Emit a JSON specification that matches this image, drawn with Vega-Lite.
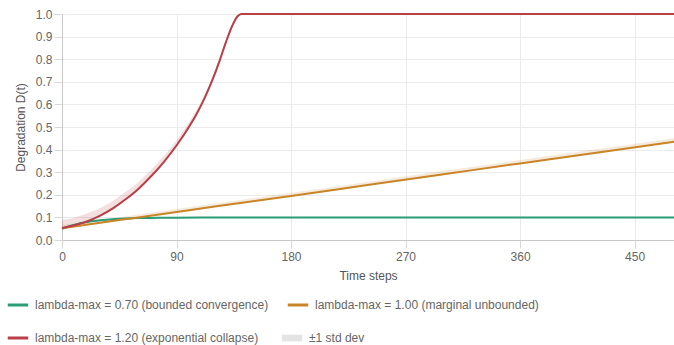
{
  "$schema": "https://vega.github.io/schema/vega-lite/v6.json",
  "width": 612,
  "height": 226,
  "autosize": {"type": "none"},
  "padding": {"left": 62, "top": 14, "right": 0, "bottom": 105},
  "background": "white",
  "config": {
    "font": "Liberation Sans",
    "view": {"stroke": null},
    "axis": {
      "labelColor": "#666666",
      "labelFontSize": 12,
      "titleColor": "#555555",
      "titleFontSize": 12,
      "titleFontWeight": "normal",
      "gridColor": "#ebebeb",
      "domainColor": "#c8c8c8",
      "tickColor": "#d8d8d8",
      "tickSize": 8,
      "labelOverlap": false
    },
    "legend": {"labelFontSize": 12, "labelColor": "#666666", "labelLimit": 0}
  },
  "data": {
    "values": [
      {"series": "lambda-max = 0.70 (bounded convergence)", "t": 0, "y": 0.050, "lo": 0.047, "hi": 0.053},
      {"series": "lambda-max = 0.70 (bounded convergence)", "t": 5, "y": 0.060, "lo": 0.057, "hi": 0.063},
      {"series": "lambda-max = 0.70 (bounded convergence)", "t": 10, "y": 0.068, "lo": 0.065, "hi": 0.071},
      {"series": "lambda-max = 0.70 (bounded convergence)", "t": 15, "y": 0.075, "lo": 0.072, "hi": 0.078},
      {"series": "lambda-max = 0.70 (bounded convergence)", "t": 20, "y": 0.080, "lo": 0.077, "hi": 0.083},
      {"series": "lambda-max = 0.70 (bounded convergence)", "t": 30, "y": 0.087, "lo": 0.084, "hi": 0.090},
      {"series": "lambda-max = 0.70 (bounded convergence)", "t": 40, "y": 0.092, "lo": 0.089, "hi": 0.095},
      {"series": "lambda-max = 0.70 (bounded convergence)", "t": 50, "y": 0.095, "lo": 0.092, "hi": 0.098},
      {"series": "lambda-max = 0.70 (bounded convergence)", "t": 60, "y": 0.097, "lo": 0.094, "hi": 0.100},
      {"series": "lambda-max = 0.70 (bounded convergence)", "t": 75, "y": 0.098, "lo": 0.095, "hi": 0.101},
      {"series": "lambda-max = 0.70 (bounded convergence)", "t": 90, "y": 0.099, "lo": 0.096, "hi": 0.102},
      {"series": "lambda-max = 0.70 (bounded convergence)", "t": 120, "y": 0.100, "lo": 0.097, "hi": 0.103},
      {"series": "lambda-max = 0.70 (bounded convergence)", "t": 180, "y": 0.100, "lo": 0.097, "hi": 0.103},
      {"series": "lambda-max = 0.70 (bounded convergence)", "t": 240, "y": 0.100, "lo": 0.097, "hi": 0.103},
      {"series": "lambda-max = 0.70 (bounded convergence)", "t": 300, "y": 0.100, "lo": 0.097, "hi": 0.103},
      {"series": "lambda-max = 0.70 (bounded convergence)", "t": 360, "y": 0.100, "lo": 0.097, "hi": 0.103},
      {"series": "lambda-max = 0.70 (bounded convergence)", "t": 420, "y": 0.100, "lo": 0.097, "hi": 0.103},
      {"series": "lambda-max = 0.70 (bounded convergence)", "t": 481, "y": 0.100, "lo": 0.097, "hi": 0.103},
      {"series": "lambda-max = 1.00 (marginal unbounded)", "t": 0, "y": 0.052, "lo": 0.049, "hi": 0.066},
      {"series": "lambda-max = 1.00 (marginal unbounded)", "t": 30, "y": 0.076, "lo": 0.073, "hi": 0.089},
      {"series": "lambda-max = 1.00 (marginal unbounded)", "t": 60, "y": 0.100, "lo": 0.097, "hi": 0.113},
      {"series": "lambda-max = 1.00 (marginal unbounded)", "t": 90, "y": 0.124, "lo": 0.121, "hi": 0.137},
      {"series": "lambda-max = 1.00 (marginal unbounded)", "t": 120, "y": 0.148, "lo": 0.145, "hi": 0.161},
      {"series": "lambda-max = 1.00 (marginal unbounded)", "t": 180, "y": 0.195, "lo": 0.192, "hi": 0.209},
      {"series": "lambda-max = 1.00 (marginal unbounded)", "t": 240, "y": 0.243, "lo": 0.240, "hi": 0.257},
      {"series": "lambda-max = 1.00 (marginal unbounded)", "t": 300, "y": 0.291, "lo": 0.288, "hi": 0.306},
      {"series": "lambda-max = 1.00 (marginal unbounded)", "t": 360, "y": 0.339, "lo": 0.336, "hi": 0.354},
      {"series": "lambda-max = 1.00 (marginal unbounded)", "t": 420, "y": 0.386, "lo": 0.383, "hi": 0.401},
      {"series": "lambda-max = 1.00 (marginal unbounded)", "t": 481, "y": 0.435, "lo": 0.432, "hi": 0.450},
      {"series": "lambda-max = 1.20 (exponential collapse)", "t": 0, "y": 0.053, "lo": 0.048, "hi": 0.088},
      {"series": "lambda-max = 1.20 (exponential collapse)", "t": 10, "y": 0.065, "lo": 0.060, "hi": 0.100},
      {"series": "lambda-max = 1.20 (exponential collapse)", "t": 20, "y": 0.083, "lo": 0.078, "hi": 0.118},
      {"series": "lambda-max = 1.20 (exponential collapse)", "t": 30, "y": 0.108, "lo": 0.103, "hi": 0.142},
      {"series": "lambda-max = 1.20 (exponential collapse)", "t": 40, "y": 0.140, "lo": 0.135, "hi": 0.173},
      {"series": "lambda-max = 1.20 (exponential collapse)", "t": 50, "y": 0.180, "lo": 0.175, "hi": 0.212},
      {"series": "lambda-max = 1.20 (exponential collapse)", "t": 60, "y": 0.226, "lo": 0.221, "hi": 0.256},
      {"series": "lambda-max = 1.20 (exponential collapse)", "t": 70, "y": 0.282, "lo": 0.277, "hi": 0.310},
      {"series": "lambda-max = 1.20 (exponential collapse)", "t": 80, "y": 0.345, "lo": 0.340, "hi": 0.371},
      {"series": "lambda-max = 1.20 (exponential collapse)", "t": 90, "y": 0.418, "lo": 0.413, "hi": 0.441},
      {"series": "lambda-max = 1.20 (exponential collapse)", "t": 100, "y": 0.502, "lo": 0.497, "hi": 0.522},
      {"series": "lambda-max = 1.20 (exponential collapse)", "t": 106, "y": 0.560, "lo": 0.555, "hi": 0.578},
      {"series": "lambda-max = 1.20 (exponential collapse)", "t": 112, "y": 0.627, "lo": 0.622, "hi": 0.643},
      {"series": "lambda-max = 1.20 (exponential collapse)", "t": 118, "y": 0.705, "lo": 0.700, "hi": 0.719},
      {"series": "lambda-max = 1.20 (exponential collapse)", "t": 124, "y": 0.795, "lo": 0.790, "hi": 0.807},
      {"series": "lambda-max = 1.20 (exponential collapse)", "t": 129, "y": 0.878, "lo": 0.874, "hi": 0.888},
      {"series": "lambda-max = 1.20 (exponential collapse)", "t": 134, "y": 0.950, "lo": 0.946, "hi": 0.958},
      {"series": "lambda-max = 1.20 (exponential collapse)", "t": 138, "y": 0.990, "lo": 0.987, "hi": 0.995},
      {"series": "lambda-max = 1.20 (exponential collapse)", "t": 141, "y": 1.0, "lo": 1.0, "hi": 1.0},
      {"series": "lambda-max = 1.20 (exponential collapse)", "t": 160, "y": 1.0, "lo": 1.0, "hi": 1.0},
      {"series": "lambda-max = 1.20 (exponential collapse)", "t": 200, "y": 1.0, "lo": 1.0, "hi": 1.0},
      {"series": "lambda-max = 1.20 (exponential collapse)", "t": 240, "y": 1.0, "lo": 1.0, "hi": 1.0},
      {"series": "lambda-max = 1.20 (exponential collapse)", "t": 300, "y": 1.0, "lo": 1.0, "hi": 1.0},
      {"series": "lambda-max = 1.20 (exponential collapse)", "t": 360, "y": 1.0, "lo": 1.0, "hi": 1.0},
      {"series": "lambda-max = 1.20 (exponential collapse)", "t": 420, "y": 1.0, "lo": 1.0, "hi": 1.0},
      {"series": "lambda-max = 1.20 (exponential collapse)", "t": 481, "y": 1.0, "lo": 1.0, "hi": 1.0}
    ]
  },
  "encoding": {
    "x": {
      "field": "t", "type": "quantitative",
      "scale": {"domain": [0, 481], "nice": false},
      "axis": {"title": "Time steps", "values": [0, 90, 180, 270, 360, 450], "labelPadding": 3, "titlePadding": 8, "labelFlush": false}
    }
  },
  "layer": [
    {
      "mark": {"type": "area", "interpolate": "monotone", "fillOpacity": 0.17},
      "encoding": {
        "y": {
          "field": "lo", "type": "quantitative",
          "scale": {"domain": [0, 1], "nice": false},
          "axis": {"title": "Degradation D(t)", "values": [0, 0.1, 0.2, 0.3, 0.4, 0.5, 0.6, 0.7, 0.8, 0.9, 1.0], "format": ".1f", "titlePadding": 8, "labelFlush": false}
        },
        "y2": {"field": "hi"},
        "fill": {
          "field": "series", "type": "nominal",
          "scale": {
            "domain": ["lambda-max = 0.70 (bounded convergence)", "lambda-max = 1.00 (marginal unbounded)", "lambda-max = 1.20 (exponential collapse)"],
            "range": ["#2a9d74", "#c98428", "#b83f47"]
          },
          "legend": null
        }
      }
    },
    {
      "mark": {"type": "line", "interpolate": "monotone", "strokeWidth": 2},
      "encoding": {
        "y": {
          "field": "y", "type": "quantitative",
          "scale": {"domain": [0, 1], "nice": false},
          "axis": {"title": "Degradation D(t)", "values": [0, 0.1, 0.2, 0.3, 0.4, 0.5, 0.6, 0.7, 0.8, 0.9, 1.0], "format": ".1f", "titlePadding": 8, "labelFlush": false}
        },
        "stroke": {
          "field": "series", "type": "nominal",
          "scale": {
            "domain": ["lambda-max = 0.70 (bounded convergence)", "lambda-max = 1.00 (marginal unbounded)", "lambda-max = 1.20 (exponential collapse)", "±1 std dev"],
            "range": ["#2a9d74", "#c98428", "#b83f47", "#e4e4e4"]
          },
          "legend": {
            "title": null,
            "orient": "none",
            "legendX": -50,
            "legendY": 285,
            "direction": "horizontal",
            "columns": 2,
            "gridAlign": "none",
            "columnPadding": 12,
            "rowPadding": 21,
            "symbolType": "stroke",
            "symbolSize": 420,
            "symbolStrokeWidth": 3,
            "labelOffset": 11,
            "encode": {
              "symbols": {
                "update": {
                  "shape": {"signal": "datum.value === '±1 std dev' ? 'M-1,-0.33H1V0.33H-1Z' : 'stroke'"},
                  "fill": {"signal": "datum.value === '±1 std dev' ? '#e4e4e4' : 'transparent'"},
                  "strokeWidth": {"signal": "datum.value === '±1 std dev' ? 0 : 3"}
                }
              }
            }
          }
        }
      }
    }
  ]
}
